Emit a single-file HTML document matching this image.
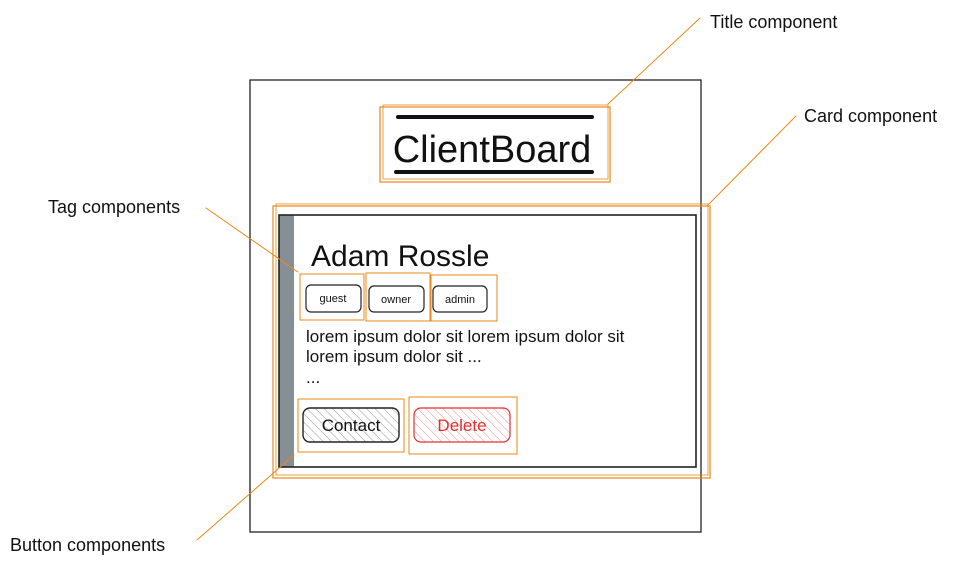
<!DOCTYPE html>
<html><head><meta charset="utf-8"><style>
html,body{margin:0;padding:0;background:#fff}
svg{display:block}
text{font-family:"Liberation Sans",sans-serif;fill:#111}
</style></head><body>
<svg width="967" height="568" viewBox="0 0 967 568" xmlns="http://www.w3.org/2000/svg">
<defs>
<pattern id="hg" width="6" height="6" patternUnits="userSpaceOnUse" patternTransform="rotate(-45)">
<line x1="0" y1="0" x2="0" y2="6" stroke="#999" stroke-width="1"/></pattern>
<pattern id="hr" width="6" height="6" patternUnits="userSpaceOnUse" patternTransform="rotate(-45)">
<line x1="0" y1="0" x2="0" y2="6" stroke="#f08a8a" stroke-width="1"/></pattern>
</defs>
<g fill="none" stroke-linecap="round">
<!-- frame -->
<rect x="250" y="80" width="451" height="452" stroke="#222" stroke-width="1.3"/>
<!-- title -->
<rect x="380" y="107" width="230" height="75" stroke="#e8891a" stroke-width="1.2"/>
<rect x="383" y="105" width="225" height="74" stroke="#e8891a" stroke-width="0.8"/>
<line x1="398" y1="117" x2="592" y2="117" stroke="#111" stroke-width="4"/>
<line x1="396" y1="172" x2="592" y2="172" stroke="#111" stroke-width="4"/>
<!-- card -->
<rect x="273" y="206" width="437" height="272" stroke="#e8891a" stroke-width="1.2"/>
<rect x="276" y="204" width="432" height="271" stroke="#e8891a" stroke-width="0.8"/>
<rect x="279" y="215" width="15" height="252" fill="#868e96" stroke="none"/>
<rect x="279" y="215" width="417" height="252" stroke="#222" stroke-width="1.6"/>
<!-- tags -->
<rect x="300" y="274" width="64" height="46" stroke="#e8891a" stroke-width="1"/>
<rect x="366" y="273" width="64" height="48" stroke="#e8891a" stroke-width="1"/>
<rect x="431" y="275" width="66" height="46" stroke="#e8891a" stroke-width="1"/>
<rect x="306" y="285" width="55" height="27" rx="5" stroke="#222" stroke-width="1.2"/>
<rect x="369" y="286" width="55" height="26" rx="5" stroke="#222" stroke-width="1.2"/>
<rect x="433" y="286" width="54" height="26" rx="5" stroke="#222" stroke-width="1.2"/>
<!-- buttons -->
<rect x="298" y="399" width="106" height="53" stroke="#e8891a" stroke-width="1"/>
<rect x="409" y="397" width="108" height="57" stroke="#e8891a" stroke-width="1"/>
<rect x="303" y="408" width="96" height="34" rx="7" fill="url(#hg)" stroke="#222" stroke-width="1.4"/>
<rect x="414" y="408" width="96" height="34" rx="7" fill="url(#hr)" stroke="#e03131" stroke-width="1.2"/>
<!-- leaders -->
<polyline points="608,104 700,18" stroke="#e8891a" stroke-width="1"/>
<polyline points="708,205 796,116" stroke="#e8891a" stroke-width="1"/>
<polyline points="206,208 298,272" stroke="#e8891a" stroke-width="1"/>
<polyline points="197,540 294,455" stroke="#e8891a" stroke-width="1"/>
</g>
<text x="492" y="162" font-size="38" text-anchor="middle">ClientBoard</text>
<text x="311" y="266" font-size="30">Adam Rossle</text>
<text x="333" y="302" font-size="11" text-anchor="middle">guest</text>
<text x="396" y="303" font-size="11" text-anchor="middle">owner</text>
<text x="460" y="303" font-size="11" text-anchor="middle">admin</text>
<text x="306" y="342" font-size="17">lorem ipsum dolor sit lorem ipsum dolor sit</text>
<text x="306" y="362" font-size="17">lorem ipsum dolor sit ...</text>
<text x="306" y="383" font-size="17">...</text>
<text x="351" y="431" font-size="17" text-anchor="middle">Contact</text>
<text x="462" y="431" font-size="17" text-anchor="middle" style="fill:#e03131">Delete</text>
<text x="710" y="28" font-size="18">Title component</text>
<text x="804" y="122" font-size="18">Card component</text>
<text x="48" y="213" font-size="18">Tag components</text>
<text x="10" y="551" font-size="18">Button components</text>
</svg>
</body></html>
